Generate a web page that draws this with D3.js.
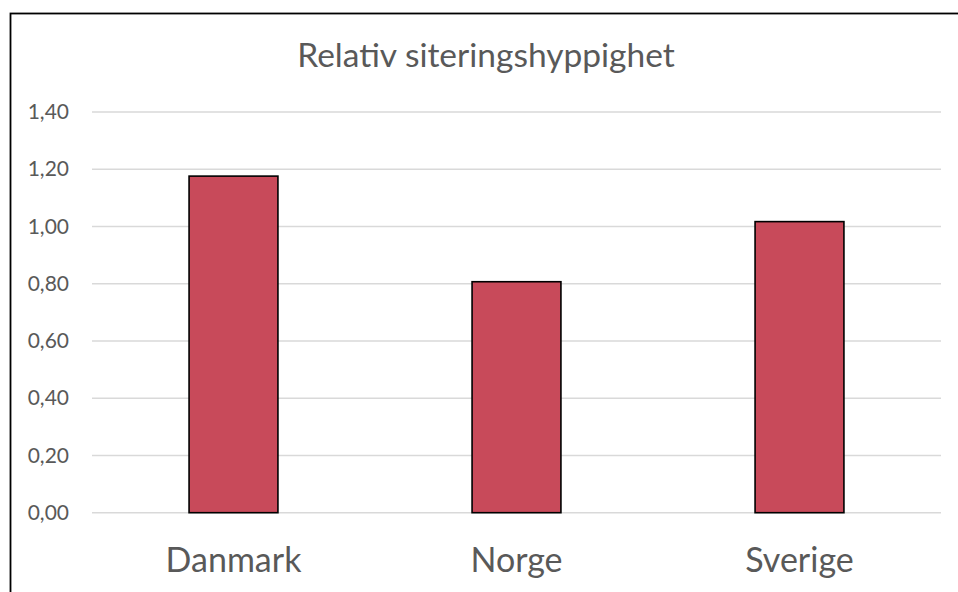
<!DOCTYPE html>
<html>
<head>
<meta charset="utf-8">
<script src="https://cdn.jsdelivr.net/npm/d3@7"></script>
<style>
  body { margin: 0; background: #fff; }
  text { font-family: Lato, "Noto Sans", sans-serif; fill: #595959; }
</style>
</head>
<body>
<div id="chart"></div>
<script>
var countries = ["Danmark", "Norge", "Sverige"];
var values = [1.176, 0.807, 1.017];
var yTicks = [0, 0.2, 0.4, 0.6, 0.8, 1.0, 1.2, 1.4];
var title = "Relativ siteringshyppighet";

var width = 958, height = 592;
var svg = d3.select("#chart").append("svg")
  .attr("width", width)
  .attr("height", height);

// outer chart border (runs off the right and bottom edges)
svg.append("rect")
  .attr("x", 10.5)
  .attr("y", 13.5)
  .attr("width", 960)
  .attr("height", 600)
  .attr("fill", "#fff")
  .attr("stroke", "#000")
  .attr("stroke-width", 1.8);

var x = d3.scaleBand()
  .domain(countries)
  .range([92, 941])
  .paddingInner(0.686)
  .paddingOuter(0.343);

var y = d3.scaleLinear()
  .domain([0, 1.4])
  .range([512.7, 112]);

var fmt = function(d) { return d3.format(".2f")(d).replace(".", ","); };

// gridlines
svg.append("g")
  .selectAll("line")
  .data(yTicks)
  .enter().append("line")
   .attr("x1", 92)
   .attr("x2", 941)
   .attr("y1", function(d) { return y(d); })
   .attr("y2", function(d) { return y(d); })
   .attr("stroke", "#d9d9d9")
   .attr("stroke-width", 1.5);

// y axis labels
var yAxis = d3.axisLeft(y)
  .tickValues(yTicks)
  .tickFormat(fmt)
  .tickSize(0)
  .tickPadding(0);
var yg = svg.append("g")
  .attr("transform", "translate(69,0)")
  .call(yAxis);
yg.select(".domain").remove();
yg.selectAll("text")
  .style("font-family", "Lato, 'Noto Sans', sans-serif")
  .attr("font-size", 21)
  .attr("fill", "#595959");

// bars
svg.append("g")
  .selectAll("rect")
  .data(values)
  .enter().append("rect")
   .attr("x", function(d, i) { return x(countries[i]); })
   .attr("width", x.bandwidth())
   .attr("y", function(d) { return y(d); })
   .attr("height", function(d) { return y(0) - y(d); })
   .attr("fill", "#c84a5a")
   .attr("stroke", "#000")
   .attr("stroke-width", 1.6);

// x axis labels
var xAxis = d3.axisBottom(x).tickSize(0).tickPadding(0);
var xg = svg.append("g")
  .attr("transform", "translate(0,572)")
  .call(xAxis);
xg.select(".domain").remove();
xg.selectAll("text")
  .attr("dy", 0)
  .style("font-family", "Lato, 'Noto Sans', sans-serif")
  .attr("font-size", 34)
  .attr("fill", "#595959");

// title
svg.append("text")
  .attr("x", 486)
  .attr("y", 67)
  .attr("text-anchor", "middle")
  .attr("font-size", 33.5)
  .text(title);
</script>
</body>
</html>
